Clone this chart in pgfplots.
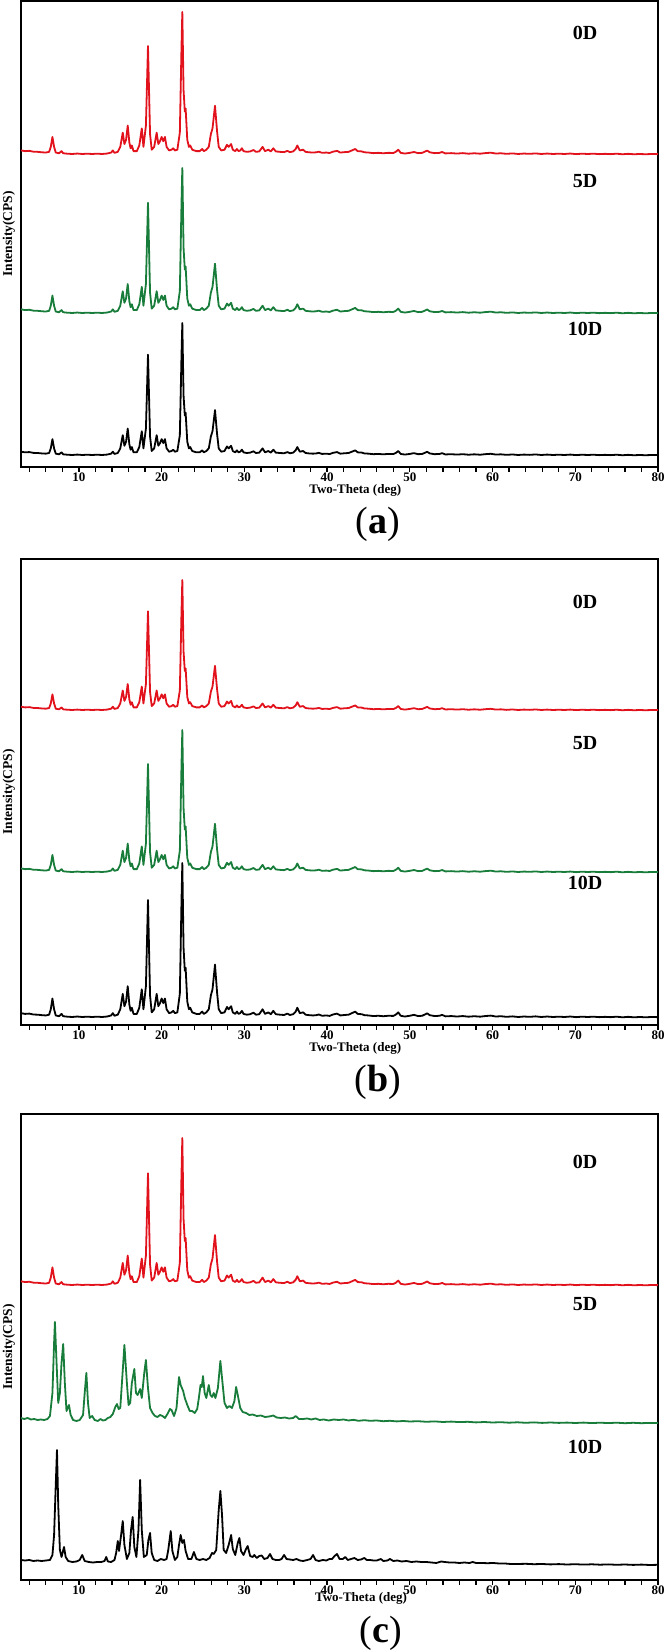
\documentclass[border=0pt]{standalone}
\usepackage{fontspec}
\setmainfont{Liberation Serif}
\usepackage{pgfplots}
\usepackage{pgfplotstable}
\pgfplotsset{compat=1.18}
\definecolor{xred}{RGB}{226,18,28}
\definecolor{xgreen}{RGB}{24,124,58}

% relative intensities of the 0D pattern (main peak = 100)
\pgfplotstableread{
x P
3.0 2.5
3.5 2.0
4.0 2.2
4.5 1.6
5.0 1.5
5.5 1.2
6.0 1.0
6.4 1.5
6.6 5
6.8 12
7.0 5
7.2 1.0
7.6 0.5
7.9 2
8.1 0.5
8.6 0.2
9.2 0
9.8 0.3
10.4 0
11.0 0.2
11.6 0
12.2 0.2
12.8 0
13.4 0.3
13.9 1
14.1 2.5
14.3 0.8
14.7 1.5
15.0 5
15.3 15
15.5 7
15.7 10
15.9 20
16.1 8
16.25 4
16.4 6
16.6 2
17.0 2
17.3 6
17.6 18
17.8 5
18.1 20
18.35 76
18.6 14
18.8 3
19.1 5
19.4 15
19.6 7
19.8 9
20.0 12
20.2 9
20.4 12
20.6 5
20.9 2.5
21.2 3
21.4 4
21.6 2.5
21.9 3
22.2 15
22.4 75
22.5 100
22.65 45
22.8 30
22.9 32
23.1 10
23.3 5
23.45 6
23.7 3
24.2 2
24.6 2
24.9 3.5
25.1 2
25.4 3
25.7 5
25.95 14
26.15 18
26.45 34
26.7 16
26.9 5
27.2 2.5
27.6 3
27.9 6.5
28.1 5
28.4 7
28.6 3
28.9 2
29.1 3.5
29.3 2
29.5 2.5
29.7 4
29.9 2
30.3 1.5
30.7 1.8
31.1 2.8
31.4 1.5
31.8 1.8
32.2 5
32.5 2
32.9 3
33.2 1.8
33.5 4
33.8 1.8
34.3 1.5
34.8 1.3
35.2 2.2
35.5 1.3
35.9 1.8
36.2 3.5
36.4 6
36.7 2.5
37.1 3
37.4 1.5
37.8 1.2
38.3 1.0
38.7 1.2
39.0 1.6
39.4 0.8
39.9 1.0
40.3 0.7
40.7 1.6
41.2 2.2
41.6 1.0
42.1 1.3
42.6 1.5
43.0 2.5
43.4 3.5
43.7 2
44.2 1.8
44.5 1.2
45.0 1.0
45.6 0.6
46.2 0.8
46.8 0.5
47.4 0.8
48.0 0.7
48.3 1.5
48.6 3
48.9 0.8
49.4 0.3
50.0 0.8
50.5 1.4
51.0 0.6
51.5 0.8
51.8 1.6
52.1 2.4
52.4 1.2
53.0 0.6
53.6 0.8
53.9 1.4
54.3 0.4
55.0 0.6
55.7 0.3
56.4 0.6
57.1 0.2
57.8 0.5
58.5 0.2
59.1 0.6
59.8 0.9
60.4 0.3
61.0 0.5
61.7 0.1
62.4 0.4
63.1 0
63.8 0.3
64.5 0.1
65.2 0.4
65.9 0
66.6 0.3
67.3 0
68.0 0.2
68.7 0
69.4 0.3
70.1 -0.1
70.8 0.2
71.5 0
72.2 0.2
72.9 -0.1
73.6 0.1
74.3 -0.1
75.0 0.2
75.7 -0.2
76.4 0.1
77.1 -0.2
77.8 0.0
78.5 -0.2
79.2 0.0
80.0 -0.1
}\formA

% panel (c), 5D pattern (height above its baseline)
\pgfplotstableread{
x I
3.0 5
3.4 4
3.8 5
4.2 3.5
4.6 4
5.0 3
5.4 3.5
5.8 3
6.2 4
6.5 7
6.8 30
7.0 80
7.1 101
7.3 60
7.5 20
7.7 30
7.9 60
8.1 79
8.3 40
8.5 12
8.8 18
9.0 8
9.3 3
9.7 2
10.1 3
10.5 8
10.7 30
10.9 50
11.1 20
11.3 5
11.6 7
11.9 3
12.3 2
12.6 4
12.9 2.5
13.2 3
13.5 5
13.8 6
14.1 9
14.4 16
14.6 19
14.8 14
15.0 15
15.2 40
15.5 78
15.8 40
16.0 18
16.2 20
16.4 40
16.7 54
16.9 30
17.1 28
17.4 34
17.6 25
17.9 50
18.1 63
18.35 35
18.6 15
18.9 10
19.2 7
19.5 6
19.8 8
20.1 7
20.4 5
20.7 9
21.0 14
21.2 13
21.5 7
21.8 15
22.1 46
22.3 38
22.6 32
22.8 25
23.1 18
23.4 12
23.7 12
24.0 10
24.3 14
24.5 25
24.7 38
24.85 36
25.0 47
25.2 30
25.4 25
25.7 38
25.9 28
26.1 26
26.3 30
26.5 25
26.8 35
27.1 62
27.3 45
27.6 20
27.9 15
28.2 17
28.5 15
28.8 22
29.0 36
29.2 28
29.5 15
29.8 11
30.2 10
30.6 8
31.0 8.5
31.5 7
32.0 7.5
32.5 6
33.0 6.5
33.5 7.5
33.9 5.5
34.4 5
34.9 5.5
35.4 4.5
35.9 5
36.2 7
36.6 4
37.1 4
37.6 4.5
38.1 3.5
38.6 4.5
39.1 3
39.6 3.5
40.2 2.5
40.8 3.5
41.4 3
42.0 3.5
42.6 2.5
43.2 3.2
43.8 2.2
44.5 2.8
45.2 2.2
46.0 2.5
46.8 1.8
47.6 2.2
48.4 1.6
49.2 2.0
50.0 1.5
51 1.8
52 1.2
53 1.6
54 1.0
55 1.4
56 0.9
57 1.2
58 0.6
59 1.0
60 0.5
61 0.8
62 0.3
63 0.7
64 0.2
65 0.6
66 0.1
67 0.5
68 0.1
69 0.4
70 0
71 0.4
72 -0.1
73 0.3
74 -0.1
75 0.3
76 -0.2
77 0.2
78 -0.2
79 0.1
80 0
}\formB

% panel (c), 10D pattern (height above its baseline)
\pgfplotstableread{
x I
3.0 5
3.5 4.5
4.0 5
4.5 4
5.0 4.5
5.5 4
6.0 4.5
6.5 5
6.8 10
7.0 30
7.2 80
7.35 115
7.5 60
7.7 15
7.9 8
8.2 18
8.4 8
8.7 4
9.2 3
9.7 3.5
10.1 5
10.4 10
10.7 4
11.2 3
11.7 2.5
12.2 3
12.7 3
13.1 4
13.3 8
13.5 3.5
13.9 3
14.3 5
14.5 12
14.7 24
14.85 14
15.1 30
15.3 44
15.5 20
15.8 6
16.1 12
16.3 35
16.5 48
16.7 18
16.95 8
17.2 35
17.4 85
17.6 35
17.85 8
18.2 10
18.4 25
18.6 32
18.8 12
19.1 5
19.5 4
19.9 6
20.3 5
20.6 6
20.8 15
21.1 34
21.3 14
21.6 5
21.9 8
22.1 20
22.3 30
22.5 22
22.7 25
22.9 14
23.2 6
23.6 6
23.9 13
24.2 6
24.6 5
25.0 6
25.4 5
25.8 7
26.1 12
26.3 11
26.6 15
26.9 55
27.1 74
27.3 50
27.5 15
27.8 12
28.1 20
28.4 30
28.6 16
28.9 10
29.2 22
29.4 27
29.6 14
29.9 10
30.2 16
30.4 19
30.7 9
31.0 8
31.2 10
31.5 7
31.8 9
32.1 9.5
32.4 6
32.8 7
33.1 11
33.4 6
33.8 5
34.2 5
34.5 6
34.8 10
35.1 6
35.5 5.5
35.9 5
36.3 6
36.7 4.5
37.1 4
37.6 5
38.0 6
38.3 10
38.6 5
39.0 4
39.5 5
39.9 4.5
40.3 6
40.6 6
40.9 9
41.2 11
41.5 6
41.9 6
42.2 8
42.5 5
42.9 6
43.3 7
43.7 5
44.1 5.5
44.5 7
44.8 5
45.2 5
45.6 4.5
46.0 4.5
46.5 6
46.8 4
47.3 4.5
47.6 6
48.0 4
48.5 4.5
49.0 3.5
49.6 4
50.2 3
50.8 3.5
51.4 3
52.0 3
52.6 2.5
53.2 2
53.8 3.5
54.2 3
54.8 2.5
55.4 2.5
56.0 2
56.6 2.5
57.2 2
57.6 3
58.0 2
58.7 2
59.4 1.8
60.1 2
60.8 1.5
61.5 1.5
62.2 1
63 1
64 1.2
65 0.8
66 1
67 0.6
68 0.9
69 0.5
70 0.8
71 0.4
72 0.7
73 0.3
74 0.6
75 0.2
76 0.5
77 0.1
78 0.4
79 0
80 0.2
}\formC

\pgfplotsset{
  xrdpanel/.style={
    scale only axis, width=637pt, height=466pt,
    xmin=3, xmax=80, ymin=0, ymax=466,
    clip=false,
    axis line style={line width=1.5pt},
    xtick={10,20,...,80},
    minor xtick={4,6,...,80},
    ytick=\empty,
    xtick pos=bottom,
    tick align=outside,
    major tick length=5pt, minor tick length=5pt,
    every tick/.append style={black, line width=1.2pt},
    every minor tick/.append style={black, line width=1.2pt},
    /pgf/number format/assume math mode=true,
    xticklabel style={font=\fontsize{13}{13}\selectfont\bfseries, inner sep=1pt},
    every axis plot/.append style={line width=1.8pt, line join=round, mark=none},
    anchor=south west,
  },
}
\tikzset{
  lbl/.style={font=\fontsize{20}{20}\selectfont\bfseries},
  xlab/.style={font=\fontsize{13}{13}\selectfont\bfseries},
}
\newcommand{\ylab}{\node[rotate=90, font=\fontsize{13.5}{13.5}\selectfont\bfseries] at (axis description cs:-0.019,0.5) {Intensity(CPS)};}

\begin{document}
\begin{tikzpicture}[x=1pt,y=1pt]
\useasboundingbox (0,0) rectangle (666,1651);

% ---- (a)
\begin{axis}[xrdpanel, at={(21pt,1184pt)}]
\addplot[xred] table[x=x, y expr=\thisrow{P}*1.42+313] {\formA};
\addplot[xgreen] table[x=x, y expr=\thisrow{P}*1.45+154] {\formA};
\addplot[black] table[x=x, y expr=\thisrow{P}*1.32+12] {\formA};
\node[lbl] at (axis cs:71.2,434) {0D};
\node[lbl] at (axis cs:71.2,286) {5D};
\node[lbl] at (axis cs:71.2,138) {10D};
\ylab
\node[xlab] at (axis cs:43.4,0) [yshift=-23pt] {Two-Theta (deg)};
\end{axis}
\node[font=\fontsize{38}{38}\selectfont] at (378,1127) {(\textbf{a})};

% ---- (b)
\begin{axis}[xrdpanel, at={(21pt,626pt)}]
\addplot[xred] table[x=x, y expr=\thisrow{P}*1.30+315] {\formA};
\addplot[xgreen] table[x=x, y expr=\thisrow{P}*1.42+153] {\formA};
\addplot[black] table[x=x, y expr=\thisrow{P}*1.54+8] {\formA};
\node[lbl] at (axis cs:71.2,423) {0D};
\node[lbl] at (axis cs:71.2,282) {5D};
\node[lbl] at (axis cs:71.2,142) {10D};
\ylab
\node[xlab] at (axis cs:43.4,0) [yshift=-23pt] {Two-Theta (deg)};
\end{axis}
\node[font=\fontsize{38}{38}\selectfont] at (378,569) {(\textbf{b})};

% ---- (c)
\begin{axis}[xrdpanel, at={(21pt,71pt)}]
\addplot[xred] table[x=x, y expr=\thisrow{P}*1.47+295] {\formA};
\addplot[xgreen] table[x=x, y expr=\thisrow{I}+157] {\formB};
\addplot[black] table[x=x, y expr=\thisrow{I}+15] {\formC};
\node[lbl] at (axis cs:71.2,418) {0D};
\node[lbl] at (axis cs:71.2,276) {5D};
\node[lbl] at (axis cs:71.2,133) {10D};
\ylab
\node[xlab] at (axis cs:44.1,0) [yshift=-18pt] {Two-Theta (deg)};
\end{axis}
\node[font=\fontsize{38}{38}\selectfont] at (381,18) {(\textbf{c})};
\end{tikzpicture}
\end{document}
